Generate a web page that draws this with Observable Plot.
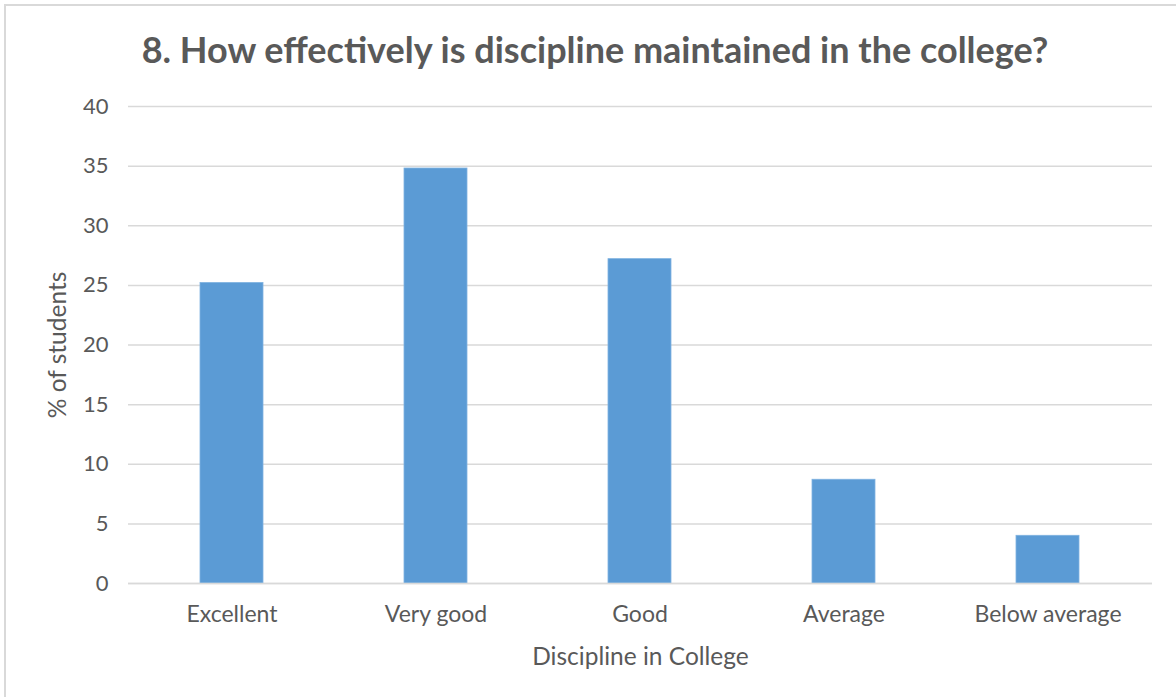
<!DOCTYPE html>
<html>
<head>
<meta charset="utf-8">
<script src="https://cdn.jsdelivr.net/npm/d3@7"></script>
<script src="https://cdn.jsdelivr.net/npm/@observablehq/plot@0.6"></script>
<style>
  body { margin: 0; background: white; }
  #chart { position: relative; width: 1176px; height: 697px; background: white; overflow: hidden; }
  #border { position: absolute; left: 4px; top: 4px; width: 1200px; height: 720px; border: 2px solid #d9d9d9; box-sizing: border-box; z-index: 2; pointer-events: none; }
  #title { position: absolute; left: 0; top: 29px; width: 1190px; text-align: center; font-family: Lato, "Open Sans", sans-serif; font-weight: bold; font-size: 36px; line-height: 40px; color: #595959; z-index: 1; }
  #plot { position: absolute; left: 0; top: 80px; }
</style>
</head>
<body>
<div id="chart">
  <div id="plot"></div>
  <div id="title">8. How effectively is discipline maintained in the college?</div>
  <div id="border"></div>
</div>
<script>
const categories = ["Excellent", "Very good", "Good", "Average", "Below average"];
const values = [25.2, 34.8, 27.2, 8.7, 4.0];
const yTicks = [0, 5, 10, 15, 20, 25, 30, 35, 40];
const xAxisLabel = "Discipline in College";
const yAxisLabel = "% of students";

const data = categories.map((c, i) => ({category: c, value: values[i]}));

const chart = Plot.plot({
  width: 1176,
  height: 617,
  marginTop: 26,
  marginBottom: 114,
  marginLeft: 128,
  marginRight: 24,
  style: {fontFamily: "Lato, 'Open Sans', sans-serif", fontSize: "23px", color: "#595959", background: "transparent"},
  x: {domain: categories, paddingInner: 0.69, paddingOuter: 0.345, label: null},
  y: {domain: [0, 40], ticks: yTicks, label: null},
  marks: [
    Plot.gridY(yTicks, {stroke: "#d9d9d9", strokeOpacity: 1, strokeWidth: 1.5}),
    Plot.barY(data, {x: "category", y: "value", fill: "#5b9bd5", stroke: "#7fb2e0", strokeWidth: 0.8}),
    Plot.ruleY([0], {stroke: "#d9d9d9", strokeWidth: 1.5}),
    Plot.axisY(yTicks, {tickSize: 0, tickPadding: 20, label: null, fontSize: 22, fill: "#595959"}),
    Plot.axisX({tickSize: 0, tickPadding: 22, label: null, fontSize: 23, fill: "#595959"}),
    Plot.text([xAxisLabel], {frameAnchor: "bottom", dy: 81, fontSize: 24.5, fill: "#595959"}),
    Plot.text([yAxisLabel], {frameAnchor: "left", textAnchor: "middle", dx: -70, rotate: -90, fontSize: 24.5, fill: "#595959"})
  ]
});
document.getElementById("plot").appendChild(chart);
</script>
</body>
</html>
